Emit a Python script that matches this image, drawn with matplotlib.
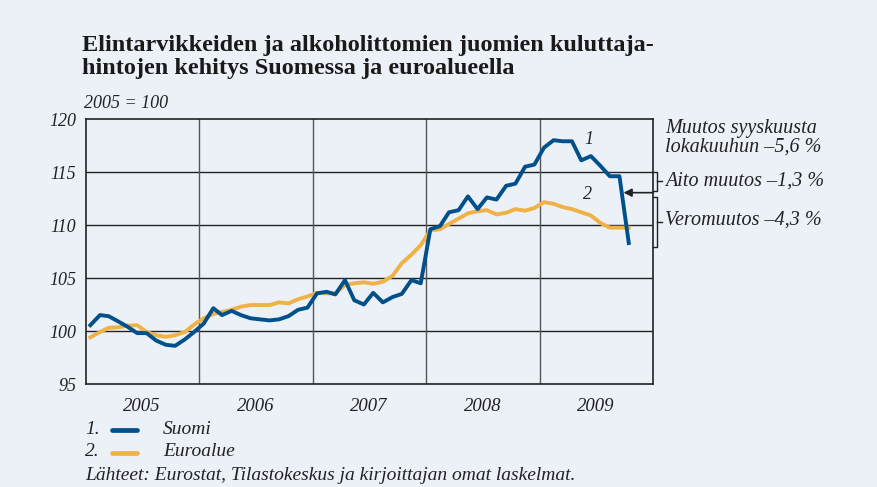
import matplotlib
matplotlib.use("Agg")
import matplotlib.pyplot as plt
import matplotlib.transforms as mtransforms
import pandas as pd

# monthly index 2005 = 100, Jan 2005 .. Oct 2009
suomi = [100.55, 101.5, 101.4, 100.9, 100.4, 99.8, 99.8, 99.1, 98.7, 98.6, 99.2, 99.9,
         100.7, 102.15, 101.5, 101.9, 101.5, 101.2, 101.1, 101.0, 101.1, 101.4, 102.0, 102.2,
         103.55, 103.7, 103.45, 104.8, 102.9, 102.5, 103.6, 102.7, 103.2, 103.5, 104.8, 104.5,
         109.6, 109.9, 111.2, 111.4, 112.7, 111.5, 112.6, 112.4, 113.7, 113.9, 115.5, 115.7,
         117.3, 118.0, 117.9, 117.9, 116.1, 116.5, 115.6, 114.6, 114.6, 108.3]
euroalue = [99.4, 99.9, 100.3, 100.35, 100.5, 100.55, 99.9, 99.6, 99.45, 99.6, 99.9, 100.6,
            101.2, 101.6, 101.8, 102.0, 102.3, 102.45, 102.45, 102.45, 102.7, 102.6, 103.0, 103.25,
            103.6, 103.55, 103.55, 104.35, 104.5, 104.6, 104.45, 104.65, 105.2, 106.4, 107.2, 108.1,
            109.5, 109.6, 110.1, 110.6, 111.1, 111.3, 111.4, 111.0, 111.15, 111.5, 111.35, 111.6,
            112.15, 112.0, 111.7, 111.5, 111.2, 110.9, 110.2, 109.75, 109.75, 109.75]
years = [2005, 2006, 2007, 2008, 2009]
yticks = [95, 100, 105, 110, 115, 120]

bg = "#ecf1f8"
blue = "#00508c"
yellow = "#f0b146"
ink = "#222222"
serif = "Liberation Serif"

dates = pd.date_range("2005-01-01", periods=len(suomi), freq="MS") + pd.Timedelta(days=14)

fig = plt.figure(figsize=(8.77, 4.87), dpi=100, facecolor=bg)
ax = fig.add_axes([86 / 877, 1 - 384 / 487, 567 / 877, 265 / 487], facecolor=bg)

ax.plot(dates, euroalue, color=yellow, lw=2.8, solid_joinstyle="round", zorder=3)
ax.plot(dates, suomi, color=blue, lw=2.8, solid_joinstyle="round", zorder=4)

ax.set_xlim(pd.Timestamp("2005-01-01"), pd.Timestamp("2010-01-01"))
ax.set_ylim(95, 120)

# grid: horizontal at ticks, vertical at year boundaries
for y in yticks[1:-1]:
    ax.axhline(y, color=ink, lw=1.0, zorder=1)
for yr in years[1:]:
    ax.axvline(pd.Timestamp(f"{yr}-01-01"), color="#555555", lw=1.0, zorder=1)

ax.set_yticks(yticks)
ax.set_yticklabels([str(v) for v in yticks], fontfamily=serif, fontstyle="italic", fontsize=13)
ax.set_xticks([pd.Timestamp(f"{yr}-07-01") for yr in years])
ax.set_xticklabels([str(yr) for yr in years], fontfamily=serif, fontstyle="italic", fontsize=13.5)
ax.tick_params(axis="y", length=0, pad=7, colors=ink)
ax.tick_params(axis="x", length=0, pad=10, colors=ink)
for s in ax.spines.values():
    s.set_color(ink)
    s.set_linewidth(1.2)

# series numbers
ax.text(pd.Timestamp("2009-06-10"), 118.1, "1", fontfamily=serif, fontstyle="italic",
        fontsize=13, ha="center", va="center", color=ink)
ax.text(pd.Timestamp("2009-06-05"), 112.9, "2", fontfamily=serif, fontstyle="italic",
        fontsize=13, ha="center", va="center", color=ink)

# brackets and arrow on the right edge
tr = mtransforms.blended_transform_factory(ax.transAxes, ax.transData)
for top, bot in [(115.0, 113.25), (112.65, 107.95)]:
    ax.plot([1.0, 1.007, 1.007, 1.0], [top, top, bot, bot], transform=tr,
            color=ink, lw=1.0, clip_on=False)
    ax.plot([1.007, 1.015], [(top + bot) / 2] * 2, transform=tr,
            color=ink, lw=1.0, clip_on=False)
ax.annotate("", xy=(0.948, 113.05), xytext=(1.0, 113.05), xycoords=tr, textcoords=tr,
            arrowprops=dict(arrowstyle="-|>", color=ink, lw=1.2,
                            mutation_scale=12, shrinkA=0, shrinkB=0))

txt = dict(fontfamily=serif, fontstyle="italic", fontsize=14.5, color=ink,
           transform=tr, ha="left", va="center")
ax.text(1.022, 119.1, "Muutos syyskuusta", **txt)
ax.text(1.022, 117.35, "lokakuuhun –5,6 %", **txt)
ax.text(1.022, 114.1, "Aito muutos –1,3 %", **txt)
ax.text(1.022, 110.5, "Veromuutos –4,3 %", **txt)

# title and notes
fig.text(82 / 877, 1 - 57 / 487, "Elintarvikkeiden ja alkoholittomien juomien kuluttaja-\n"
         "hintojen kehitys Suomessa ja euroalueella", fontfamily=serif, fontweight="bold",
         fontsize=17.5, color="#1a1a1a", ha="left", va="center", linespacing=1.07)
fig.text(84 / 877, 1 - 103 / 487, "2005 = 100", fontfamily=serif, fontstyle="italic",
         fontsize=13, color=ink, ha="left", va="center")

note = dict(fontfamily=serif, fontstyle="italic", fontsize=14, color=ink, va="center")
fig.text(85 / 877, 1 - 429 / 487, "1.", **note)
fig.text(85 / 877, 1 - 452 / 487, "2.", **note)
fig.lines.append(plt.Line2D([112 / 877, 137 / 877], [1 - 430 / 487] * 2, color=blue, lw=3.4,
                            transform=fig.transFigure, solid_capstyle="round"))
fig.lines.append(plt.Line2D([112 / 877, 137 / 877], [1 - 453 / 487] * 2, color=yellow, lw=3.4,
                            transform=fig.transFigure, solid_capstyle="round"))
fig.text(163 / 877, 1 - 429 / 487, "Suomi", **note)
fig.text(163 / 877, 1 - 452 / 487, "Euroalue", **note)
fig.text(85 / 877, 1 - 475 / 487, "Lähteet: Eurostat, Tilastokeskus ja kirjoittajan omat laskelmat.",
         **note)

fig.savefig("out.png", dpi=100, facecolor=bg)
